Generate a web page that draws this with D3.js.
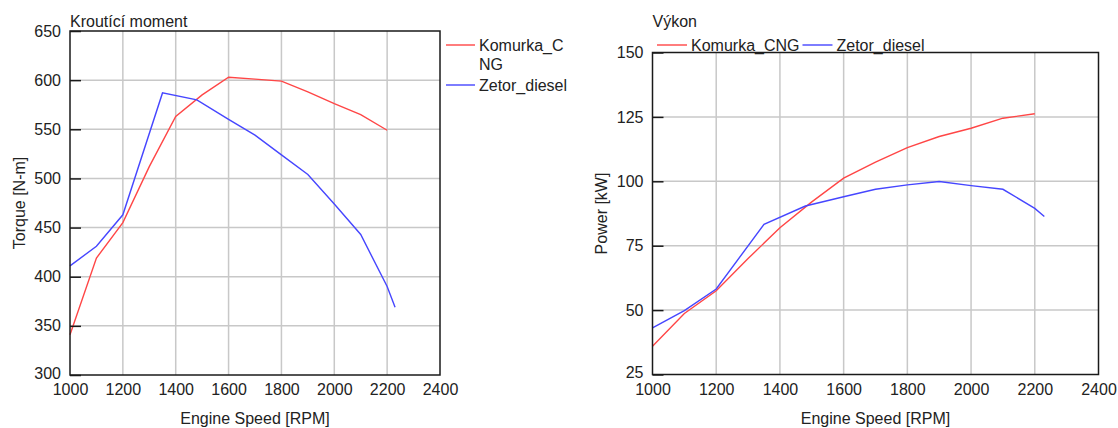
<!DOCTYPE html>
<html>
<head>
<meta charset="utf-8">
<script src="https://cdn.jsdelivr.net/npm/d3@7"></script>
<style>
  html, body { margin: 0; padding: 0; background: #fff; }
  svg { display: block; }
  text { font-family: "Liberation Sans", Arial, sans-serif; fill: #222; }
</style>
</head>
<body>
<svg id="chart" width="1118" height="428"></svg>
<script>
// Engine speed ticks and series names
const rpmTicks = [1000, 1200, 1400, 1600, 1800, 2000, 2200, 2400];
const seriesNames = ["Komurka_CNG", "Zetor_diesel"];
const seriesColors = ["#ff4646", "#4646ff"];

// Torque curves [rpm, N·m]
const torqueCNG = [
  [1000, 341], [1100, 419], [1200, 455], [1300, 512], [1400, 563], [1500, 585],
  [1600, 603], [1700, 601], [1800, 599], [1900, 588], [2000, 576], [2100, 565], [2200, 549]
];
const torqueDiesel = [
  [1000, 411], [1100, 431], [1200, 463], [1350, 587], [1480, 580], [1600, 560],
  [1700, 544], [1800, 524], [1900, 504], [2000, 474], [2100, 443], [2200, 390], [2230, 369]
];
const torqueTicks = [300, 350, 400, 450, 500, 550, 600, 650];

// Power curves [rpm, kW]
const powerCNG = [
  [1000, 36], [1100, 48.7], [1200, 57.5], [1300, 70], [1400, 82], [1500, 92],
  [1600, 101.2], [1700, 107.4], [1800, 113.1], [1900, 117.4], [2000, 120.6], [2100, 124.5], [2200, 126.2]
];
const powerDiesel = [
  [1000, 43.1], [1100, 49.8], [1200, 58.2], [1350, 83.3], [1480, 90.4], [1600, 94],
  [1700, 96.9], [1800, 98.6], [1900, 99.9], [2000, 98.3], [2100, 96.9], [2200, 89.5], [2230, 86.3]
];
const powerTicks = [25, 50, 75, 100, 125, 150];

const FS = 16;
const svg = d3.select("#chart");

function drawPanel(cfg) {
  const x = d3.scaleLinear().domain([rpmTicks[0], rpmTicks[rpmTicks.length - 1]]).range([cfg.left, cfg.right]);
  const y = d3.scaleLinear().domain([cfg.yTicks[0], cfg.yTicks[cfg.yTicks.length - 1]]).range([cfg.bottom, cfg.top]);
  const g = svg.append("g");

  // grid
  g.append("g").selectAll("line").data(rpmTicks.slice(1, -1)).join("line")
    .attr("x1", d => x(d)).attr("x2", d => x(d))
    .attr("y1", cfg.top).attr("y2", cfg.bottom)
    .attr("stroke", "#c8c8c8").attr("stroke-width", 1.5);
  g.append("g").selectAll("line").data(cfg.yTicks.slice(1, -1)).join("line")
    .attr("x1", cfg.left).attr("x2", cfg.right)
    .attr("y1", d => y(d)).attr("y2", d => y(d))
    .attr("stroke", "#c8c8c8").attr("stroke-width", 1.5);

  // series
  const line = d3.line().x(d => x(d[0])).y(d => y(d[1]));
  cfg.series.forEach((s, i) => {
    g.append("path").datum(s).attr("d", line)
      .attr("fill", "none").attr("stroke", seriesColors[i]).attr("stroke-width", 1.4);
  });

  // frame
  g.append("rect").attr("x", cfg.left).attr("y", cfg.top)
    .attr("width", cfg.right - cfg.left).attr("height", cfg.bottom - cfg.top)
    .attr("fill", "none").attr("stroke", "#1a1a1a").attr("stroke-width", 1.5);

  // y axis: inward ticks and labels
  const yAxis = d3.axisLeft(y).tickValues(cfg.yTicks).tickSize(-11).tickFormat(d3.format("d"));
  const ya = g.append("g").attr("transform", `translate(${cfg.left},0)`).call(yAxis);
  ya.select(".domain").remove();
  ya.selectAll(".tick line").attr("stroke", "#1a1a1a").attr("stroke-width", 1.5);
  ya.selectAll(".tick text").attr("font-size", FS).attr("font-family", "Liberation Sans, Arial, sans-serif")
    .attr("fill", "#222").attr("x", -9).attr("dy", (d, i) => i === 0 ? "0.2em" : "0.32em");

  // x axis labels
  const xAxis = d3.axisBottom(x).tickValues(rpmTicks).tickSize(0).tickPadding(9).tickFormat(d3.format("d"));
  const xa = g.append("g").attr("transform", `translate(0,${cfg.bottom})`).call(xAxis);
  xa.select(".domain").remove();
  xa.selectAll(".tick text").attr("font-size", FS).attr("font-family", "Liberation Sans, Arial, sans-serif")
    .attr("fill", "#222");

  // axis titles
  g.append("text").attr("x", (cfg.left + cfg.right) / 2).attr("y", 424)
    .attr("text-anchor", "middle").attr("font-size", FS).text("Engine Speed [RPM]");
  g.append("text")
    .attr("transform", `translate(${cfg.yLabelX},${(cfg.top + cfg.bottom) / 2}) rotate(-90)`)
    .attr("text-anchor", "middle").attr("dy", "0.35em").attr("font-size", FS).text(cfg.yLabel);

  // chart title
  g.append("text").attr("x", cfg.left).attr("y", 27).attr("font-size", FS).text(cfg.title);

  return { g, x, y };
}

// Left panel: torque
const left = drawPanel({
  left: 70, right: 440, top: 31, bottom: 375,
  yTicks: torqueTicks, series: [torqueCNG, torqueDiesel],
  title: "Kroutící moment", yLabel: "Torque [N-m]", yLabelX: 19
});

// vertical legend with wrapped names
(function () {
  const lg = left.g.append("g");
  let yPos = 45;
  const maxW = 90;
  seriesNames.forEach((name, i) => {
    lg.append("line").attr("x1", 446).attr("x2", 475).attr("y1", yPos).attr("y2", yPos)
      .attr("stroke", seriesColors[i]).attr("stroke-width", 1.4);
    const t = lg.append("text").attr("x", 479).attr("y", yPos).attr("font-size", FS);
    // break the name where it exceeds the legend width
    let line = "", lines = [];
    for (const ch of name) {
      t.text(line + ch);
      if (t.node().getComputedTextLength() > maxW && line) { lines.push(line); line = ch; }
      else line += ch;
    }
    lines.push(line);
    t.text(null);
    lines.forEach((l, j) => {
      t.append("tspan").attr("x", 479).attr("dy", j === 0 ? "0.35em" : 19.5).text(l);
    });
    yPos += lines.length * 20;
  });
})();

// Right panel: power
const right = drawPanel({
  left: 652.5, right: 1098.5, top: 52.5, bottom: 374.5,
  yTicks: powerTicks, series: [powerCNG, powerDiesel],
  title: "Výkon", yLabel: "Power [kW]", yLabelX: 601
});

// horizontal legend above the plot
(function () {
  const lg = right.g.append("g");
  let xPos = 657;
  seriesNames.forEach((name, i) => {
    lg.append("line").attr("x1", xPos).attr("x2", xPos + 30).attr("y1", 45).attr("y2", 45)
      .attr("stroke", seriesColors[i]).attr("stroke-width", 1.4);
    const t = lg.append("text").attr("x", xPos + 34).attr("y", 45).attr("dy", "0.35em")
      .attr("font-size", FS).text(name);
    xPos += 34 + t.node().getComputedTextLength() + 3;
  });
})();
</script>
</body>
</html>
